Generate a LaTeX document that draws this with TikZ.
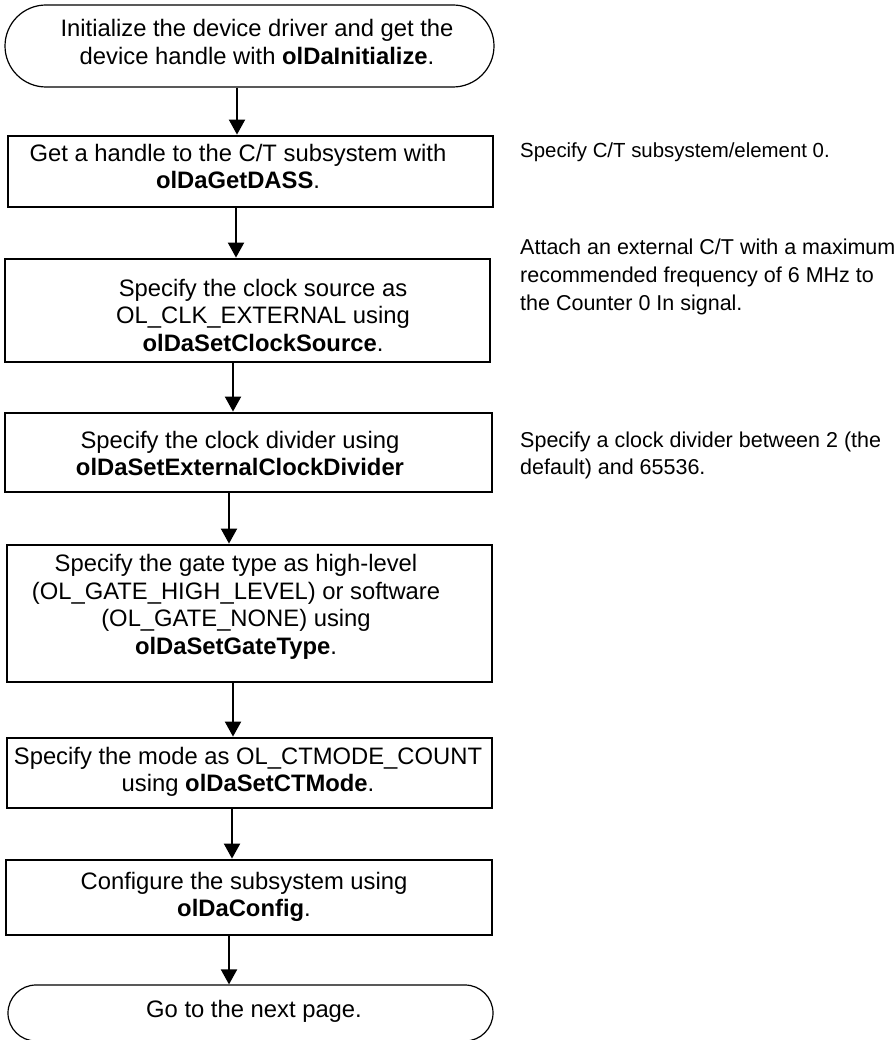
\documentclass[tikz,border=0pt]{standalone}
\usepackage{fontspec}
\setmainfont{Liberation Sans}
\usetikzlibrary{arrows.meta,shapes.misc}
\begin{document}
\begin{tikzpicture}[x=1pt,y=-1pt,
  terminal/.style={draw, line width=1.2pt, rounded rectangle, inner sep=0pt},
  stepbox/.style={draw, line width=2.8pt, rectangle, inner sep=0pt},
  steptext/.style={font=\fontsize{23.8}{27.5}\selectfont, align=center, anchor=center, inner sep=0pt},
  note/.style={font=\fontsize{21.5}{28}\selectfont, align=left, anchor=west, inner sep=0pt},
  flow/.style={line width=2pt, -{Triangle[width=16pt,length=15pt]}}]

\useasboundingbox (0,0) rectangle (895,1040);
\clip (0,0) rectangle (895,1040);

% outlines of the flow chart
\node[terminal, minimum width=489pt, minimum height=82pt] (t1) at (249.5,46) {};
\node[stepbox, minimum width=485pt, minimum height=71pt]  (b1) at (250.5,171.5) {};
\node[stepbox, minimum width=485pt, minimum height=103pt] (b2) at (247.5,310.5) {};
\node[stepbox, minimum width=487pt, minimum height=79pt]  (b3) at (248.5,452.5) {};
\node[stepbox, minimum width=485pt, minimum height=137pt] (b4) at (249.5,613.5) {};
\node[stepbox, minimum width=485pt, minimum height=70pt]  (b5) at (249.5,773) {};
\node[stepbox, minimum width=486pt, minimum height=75pt]  (b6) at (249,897.5) {};
\node[terminal, minimum width=485pt, minimum height=56pt] (t2) at (250.5,1013) {};

% step texts
\node[steptext] (t1txt) at (257,42) {Initialize the device driver and get the\\device handle with \textbf{olDaInitialize}.};
\node[steptext] (b1txt) at (238,166.5) {Get a handle to the C/T subsystem with\\\textbf{olDaGetDASS}.};
\node[steptext] (b2txt) at (263,315) {Specify the clock source as\\OL\_CLK\_EXTERNAL using\\\textbf{olDaSetClockSource}.};
\node[steptext] (b3txt) at (240,453.5) {Specify the clock divider using\\\textbf{olDaSetExternalClockDivider}};
\node[steptext] (b4txt) at (236,607) {Specify the gate type as high-level\\(OL\_GATE\_HIGH\_LEVEL) or software\\(OL\_GATE\_NONE) using\\\textbf{olDaSetGateType}.};
\node[steptext] (b5txt) at (248,772) {Specify the mode as OL\_CTMODE\_COUNT\\using \textbf{olDaSetCTMode}.};
\node[steptext] (b6txt) at (244,897) {Configure the subsystem using\\\textbf{olDaConfig}.};
\node[steptext] (t2txt) at (254,1011) {Go to the next page.};

% side notes
\node[note, font=\fontsize{20.4}{27.5}\selectfont] (n1) at (520,152) {Specify C/T subsystem/element 0.};
\node[note] (n2) at (520,277) {Attach an external C/T with a maximum\\recommended frequency of 6 MHz to\\the Counter 0 In signal.};
\node[note, font=\fontsize{21.5}{27}\selectfont] (n3) at (520,455) {Specify a clock divider between 2 (the\\default) and 65536.};

% connectors
\draw[flow] ([xshift=-12.5pt]t1.south) -- ([xshift=-13.5pt]b1.north);
\draw[flow] ([xshift=-14.5pt]b1.south) -- ([xshift=-11.5pt]b2.north);
\draw[flow] ([xshift=-14.5pt]b2.south) -- ([xshift=-15.5pt]b3.north);
\draw[flow] ([xshift=-19.5pt]b3.south) -- ([xshift=-20.5pt]b4.north);
\draw[flow] ([xshift=-16.5pt]b4.south) -- ([xshift=-16.5pt]b5.north);
\draw[flow] ([xshift=-17.5pt]b5.south) -- ([xshift=-17pt]b6.north);
\draw[flow] ([xshift=-20pt]b6.south) -- ([xshift=-21.5pt]t2.north);
\end{tikzpicture}
\end{document}
